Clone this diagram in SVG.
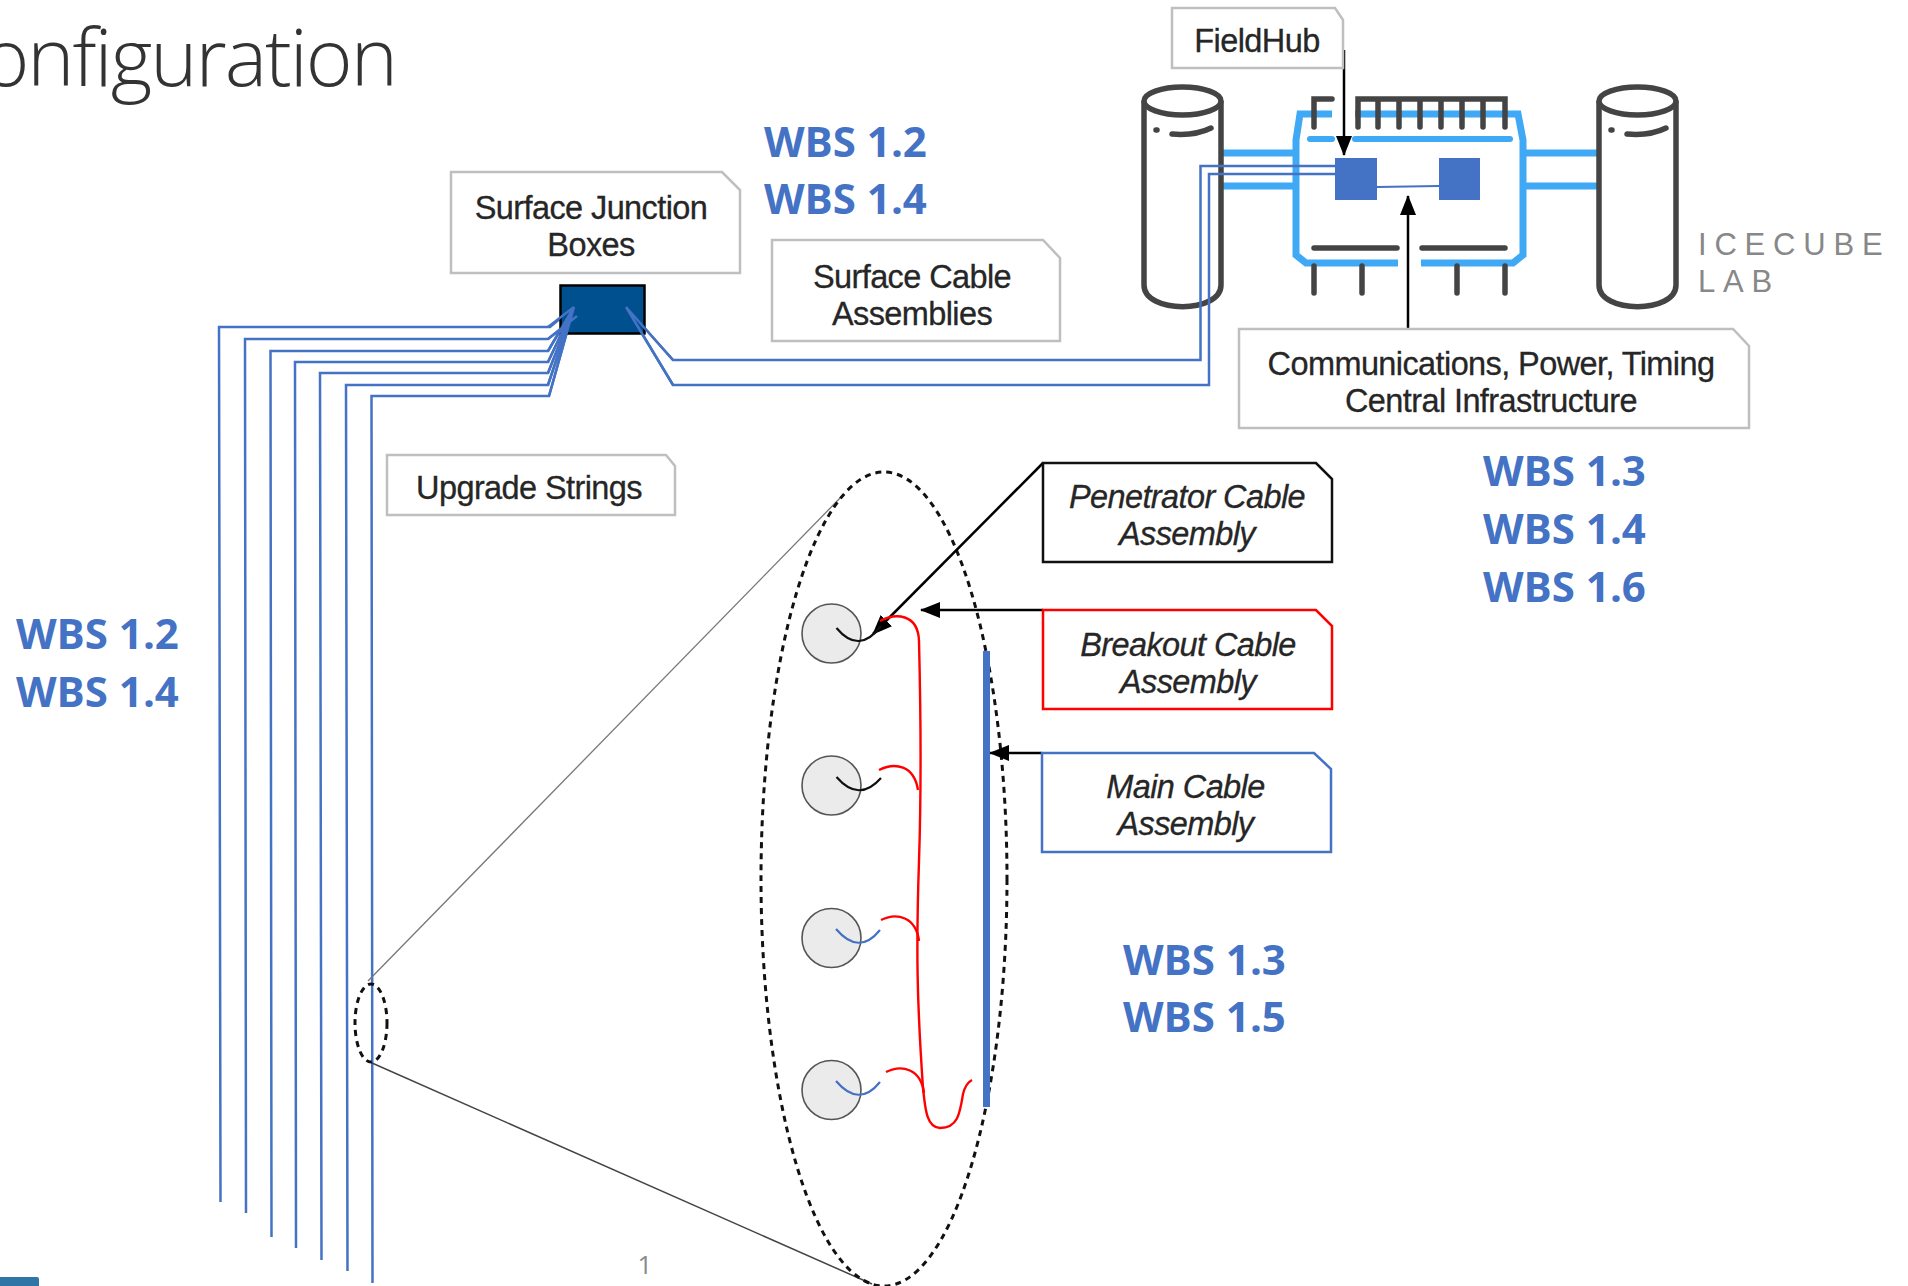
<svg xmlns="http://www.w3.org/2000/svg" width="1908" height="1286" viewBox="0 0 1908 1286">
<style>
.lab{font-family:"Liberation Sans",Arial,sans-serif;font-size:32.500px;fill:#262626;stroke:#262626;stroke-width:.3px;text-anchor:middle;letter-spacing:-.6px}
.it{font-style:italic}
.wbs{font-family:"Open Sans","Noto Sans",sans-serif;font-weight:700;font-size:42px;fill:#4472c4}
.box{fill:#fff;stroke-width:2.500}
.g{stroke:#bfbfbf}
.cyl{fill:#fff;stroke:#444;stroke-width:5.500}
.dk{fill:none;stroke:#444;stroke-width:5.500;stroke-linecap:round}
.lb{fill:none;stroke:#3fa9f5;stroke-width:7}
.st{fill:none;stroke:#4472c4;stroke-width:2.500}
.red{fill:none;stroke:#f00;stroke-width:2.400}
.ar{fill:none;stroke:#000;stroke-width:2.500}
.ball{fill:#ebebeb;stroke:#555;stroke-width:1.600}
.dash{fill:none;stroke:#111;stroke-width:3;stroke-dasharray:6 5}
.sq{fill:#4472c4}
.ice{font-family:"Liberation Sans",Arial,sans-serif;font-size:31px;fill:#888;letter-spacing:7.800px}
</style>
<defs>
<marker id="ah" markerUnits="userSpaceOnUse" markerWidth="20" markerHeight="16" refX="19" refY="8" orient="auto"><path d="M0,0L20,8L0,16Z" fill="#000"/></marker>
</defs>
<text id="title" x="396" y="86" text-anchor="end" style="font-family:'Open Sans',sans-serif;font-weight:300;font-size:80px;letter-spacing:-2px;fill:#333">onfiguration</text>
<rect id="footer-mark" x="-4" y="1277" width="43" height="12" rx="2" fill="#2f76a6"/>
<text id="page-number" x="645" y="1274" style="font-family:'Open Sans',sans-serif;font-size:26px;fill:#8a8a8a" text-anchor="middle">1</text>

<g id="icecube-lab">
<g id="links">
<path class="lb" d="M1223,153H1295M1223,186H1295M1523,153H1598M1523,186H1598"/>
</g>
<g id="silo-left">
<path class="cyl" d="M1144,101V285C1144,314 1221,314 1221,285V101"/>
<ellipse class="cyl" cx="1182.500" cy="101" rx="38.500" ry="14"/>
<path class="dk" d="M1156,130h1M1172,134Q1195,136 1211,128"/>
</g>
<g id="silo-right">
<path class="cyl" d="M1599,101V285C1599,314 1676,314 1676,285V101"/>
<ellipse class="cyl" cx="1637.500" cy="101" rx="38.500" ry="14"/>
<path class="dk" d="M1611,130h1M1627,134Q1650,136 1666,128"/>
</g>
<g id="building">
<path class="lb" d="M1332,114H1300L1296,140V255L1306,263H1398M1421,263H1513L1523,255V140L1518,114H1355"/>
<path d="M1310,139H1332M1355,139H1510" fill="none" stroke="#3fa9f5" stroke-width="6" stroke-linecap="round"/>
<path class="dk" d="M1314,127V99H1332M1358,127V99H1505V127M1378,99V127M1399,99V127M1420,99V127M1441,99V127M1462,99V127M1483,99V127"/>
<path class="dk" d="M1314,248H1397M1422,248H1505M1314,266V293M1362,266V293M1457,266V293M1505,266V293"/>
<rect id="fieldhub-a" class="sq" x="1335" y="158" width="42" height="42"/>
<rect id="fieldhub-b" class="sq" x="1439" y="158" width="41" height="42"/>
</g>
<path d="M1377,187L1439,186" fill="none" stroke="#4472c4" stroke-width="2"/>
<text class="ice" x="1698" y="255">ICECUBE</text>
<text class="ice" x="1698" y="292">LAB</text>
</g>

<g id="connectors">
<path class="st" d="M220.500,1202L219,327H550L574,307"/>
<path class="st" d="M246,1213L245,339H548L577,316"/>
<path class="st" d="M271.500,1237L270.500,351H548L574,307"/>
<path class="st" d="M296,1248L295,362H548L574,307"/>
<path class="st" d="M321.500,1260L320,373H548L574,307"/>
<path class="st" d="M347.500,1271L346,385H548L574,307"/>
<path class="st" d="M372.500,1283L371.500,396H549L574,307"/>
<path class="st" d="M626,307L673,360H1200.500V166H1335"/>
<path class="st" d="M626,307L673,385H1209V174H1335"/>
<path d="M368,981L843,495" fill="none" stroke="#777" stroke-width="1.300"/>
<path d="M372,1063L872,1284" fill="none" stroke="#444" stroke-width="1.500"/>
<ellipse class="dash" cx="371" cy="1023" rx="16" ry="39"/>
<ellipse class="dash" cx="884" cy="879" rx="123" ry="407"/>
<path class="ar" d="M1344,50V155" marker-end="url(#ah)"/>
<path class="ar" d="M1408,329V196" marker-end="url(#ah)"/>
<path class="ar" d="M1043,463L873,634" marker-end="url(#ah)"/>
<path class="ar" d="M1043,610H921" marker-end="url(#ah)"/>
<path class="ar" d="M1042,753H990" marker-end="url(#ah)"/>
</g>

<g id="string-detail" transform="translate(0,1)">
<rect id="main-cable" class="sq" x="983" y="650" width="7" height="456"/>
<g id="dom-1"><circle class="ball" cx="831.500" cy="632.500" r="29.500"/><path d="M836.500,627Q859,654 881,625" fill="none" stroke="#111" stroke-width="2.200"/></g>
<g id="dom-2"><circle class="ball" cx="831.500" cy="784.500" r="29.500"/><path d="M836.500,776Q859,802 881,777" fill="none" stroke="#111" stroke-width="2.200"/></g>
<g id="dom-3"><circle class="ball" cx="831.500" cy="937" r="29.500"/><path d="M836,928Q859,955 880,929" fill="none" stroke="#4472c4" stroke-width="2.200"/></g>
<g id="dom-4"><circle class="ball" cx="831.500" cy="1089" r="29.500"/><path d="M836,1080Q859,1107 880,1081" fill="none" stroke="#4472c4" stroke-width="2.200"/></g>
<g id="breakout">
<path class="red" d="M880,620C895,612 918,612 919,640C921,720 921,800 919,860C916,950 917,1000 923,1087C925,1105 926,1127 940,1127C958,1127 960,1112 963,1093C965,1085 968,1081 972,1079"/>
<path class="red" d="M879,769C895,761 914,764 918,789"/>
<path class="red" d="M881,919C897,911 916,916 919,940"/>
<path class="red" d="M886,1071C902,1063 921,1068 924,1092"/>
</g>
</g>

<g id="node-fieldhub"><path class="box g" d="M1172,8H1335L1343,20V68H1172Z"/><text class="lab" x="1257" y="52">FieldHub</text></g>
<g id="node-sjb-label"><path class="box g" d="M451,172H722L740,190V273H451Z"/><text class="lab" x="591" y="219">Surface Junction</text><text class="lab" x="591" y="256">Boxes</text></g>
<g id="node-sjb"><rect x="560.500" y="285.500" width="84" height="48" fill="#00508f" stroke="#000" stroke-width="2.500"/></g>
<path class="st" d="M548,327L574,307M548,339L577,316M548,351L574,307M548,362L574,307M548,373L574,307M548,385L574,307M549,396L574,307M626,307L673,360M626,307L673,385"/>
<g id="node-surface-cable"><path class="box g" d="M772,240H1043L1060,258V341H772Z"/><text class="lab" x="912" y="288">Surface Cable</text><text class="lab" x="912" y="325">Assemblies</text></g>
<g id="node-upgrade"><path class="box g" d="M387,455H666L675,466V515H387Z"/><text class="lab" x="529" y="499">Upgrade Strings</text></g>
<g id="node-central"><path class="box g" d="M1239,329H1733L1749,346V428H1239Z"/><text class="lab" x="1491" y="375">Communications, Power, Timing</text><text class="lab" x="1491" y="412">Central Infrastructure</text></g>
<g id="node-penetrator"><path class="box" stroke="#111" d="M1043,463H1316L1332,479V562H1043Z"/><text class="lab it" x="1187" y="508">Penetrator Cable</text><text class="lab it" x="1187" y="545">Assembly</text></g>
<g id="node-breakout"><path class="box" stroke="#f00" d="M1043,610H1316L1332,626V709H1043Z"/><text class="lab it" x="1188" y="656">Breakout Cable</text><text class="lab it" x="1188" y="693">Assembly</text></g>
<g id="node-main"><path class="box" stroke="#4472c4" d="M1042,753H1314L1331,769V852H1042Z"/><text class="lab it" x="1185.500" y="798">Main Cable</text><text class="lab it" x="1185.500" y="835">Assembly</text></g>

<g id="wbs-labels">
<text class="wbs" x="764" y="157">WBS 1.2</text><text class="wbs" x="764" y="214">WBS 1.4</text>
<text class="wbs" x="1483" y="486">WBS 1.3</text><text class="wbs" x="1483" y="544">WBS 1.4</text><text class="wbs" x="1483" y="602">WBS 1.6</text>
<text class="wbs" x="16" y="649">WBS 1.2</text><text class="wbs" x="16" y="707">WBS 1.4</text>
<text class="wbs" x="1123" y="975">WBS 1.3</text><text class="wbs" x="1123" y="1032">WBS 1.5</text>
</g>
</svg>
